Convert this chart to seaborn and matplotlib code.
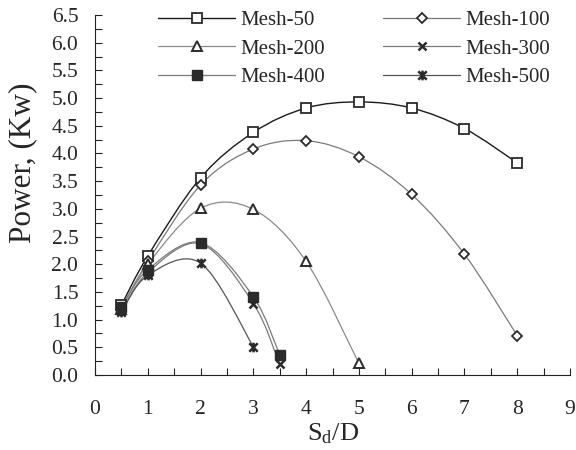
import numpy as np
import pandas as pd
import seaborn as sns
import matplotlib
matplotlib.use("Agg")
import matplotlib.pyplot as plt
from matplotlib.path import Path
from matplotlib.patches import PathPatch
from matplotlib.lines import Line2D
from matplotlib.ticker import MultipleLocator, FormatStrFormatter

# Power output versus spacing ratio for each mesh size
mesh_50_x = [0.5, 1, 2, 3, 4, 5, 6, 7, 8]
mesh_50_y = [1.26, 2.15, 3.56, 4.38, 4.82, 4.93, 4.82, 4.45, 3.83]

mesh_100_x = [0.5, 1, 2, 3, 4, 5, 6, 7, 8]
mesh_100_y = [1.20, 2.05, 3.43, 4.08, 4.23, 3.94, 3.26, 2.18, 0.71]

mesh_200_x = [0.5, 1, 2, 3, 4, 5]
mesh_200_y = [1.20, 2.00, 3.01, 2.99, 2.05, 0.21]

mesh_300_x = [0.5, 1, 2, 3, 3.5]
mesh_300_y = [1.16, 1.85, 2.37, 1.29, 0.19]

mesh_400_x = [0.5, 1, 2, 3, 3.5]
mesh_400_y = [1.22, 1.90, 2.39, 1.41, 0.36]

mesh_500_x = [0.5, 1, 2, 3]
mesh_500_y = [1.13, 1.80, 2.02, 0.51]

labels = ["Mesh-50", "Mesh-100", "Mesh-200", "Mesh-300", "Mesh-400", "Mesh-500"]
xs = [mesh_50_x, mesh_100_x, mesh_200_x, mesh_300_x, mesh_400_x, mesh_500_x]
ys = [mesh_50_y, mesh_100_y, mesh_200_y, mesh_300_y, mesh_400_y, mesh_500_y]

sns.set_theme(style="ticks")
plt.rcParams["font.family"] = ["Liberation Serif", "DejaVu Serif"]
plt.rcParams["mathtext.fontset"] = "custom"
plt.rcParams["mathtext.rm"] = "Liberation Serif"
plt.rcParams["mathtext.it"] = "Liberation Serif"

# asterisk-like marker: an X with a vertical stroke
star_marker = Path(
    [(-1, -1), (1, 1), (-1, 1), (1, -1), (0, -1.15), (0, 1.15)],
    [Path.MOVETO, Path.LINETO, Path.MOVETO, Path.LINETO, Path.MOVETO, Path.LINETO],
)

dark = "#2b2b2b"
styles = [
    dict(marker="s", ms=6.5, mfc="white", mec=dark, mew=1.3, lc="#1a1a1a", lw=1.0),
    dict(marker="D", ms=5.0, mfc="white", mec=dark, mew=1.3, lc="#7a7a7a", lw=0.9),
    dict(marker="^", ms=7.0, mfc="white", mec=dark, mew=1.4, lc="#8a8a8a", lw=0.9),
    dict(marker="x", ms=6.0, mfc=dark, mec=dark, mew=1.8, lc="#7a7a7a", lw=0.9),
    dict(marker="s", ms=7.0, mfc=dark, mec=dark, mew=1.0, lc="#7a7a7a", lw=0.9),
    dict(marker=star_marker, ms=7.0, mfc=dark, mec=dark, mew=1.8, lc="#555555", lw=0.9),
]


def smooth_path(x, y):
    """Cubic Bezier path through the points (Catmull-Rom style smoothing)."""
    p = np.column_stack([x, y]).astype(float)
    n = len(p)
    verts = [p[0]]
    codes = [Path.MOVETO]
    for i in range(n - 1):
        p0 = p[i - 1] if i > 0 else p[i]
        p1 = p[i]
        p2 = p[i + 1]
        p3 = p[i + 2] if i + 2 < n else p[i + 1]
        c1 = p1 + (p2 - p0) / 6.0
        c2 = p2 - (p3 - p1) / 6.0
        verts += [c1, c2, p2]
        codes += [Path.CURVE4] * 3
    return Path(verts, codes)


fig = plt.figure(figsize=(5.76, 4.5), dpi=100)
ax = fig.add_axes([0.165, 0.1667, 0.8246, 0.8])

handles = {}
for lab, x, y, st in zip(labels, xs, ys, styles):
    ax.add_patch(PathPatch(smooth_path(x, y), facecolor="none",
                           edgecolor=st["lc"], lw=st["lw"], zorder=2))
    df = pd.DataFrame({"x": x, "y": y})
    sns.lineplot(data=df, x="x", y="y", ax=ax, sort=False, linestyle="none",
                 marker=st["marker"], markersize=st["ms"],
                 markerfacecolor=st["mfc"], markeredgecolor=st["mec"],
                 markeredgewidth=st["mew"], color=st["lc"], zorder=3)
    handles[lab] = Line2D([], [], color=st["lc"], lw=st["lw"], marker=st["marker"],
                          ms=st["ms"], mfc=st["mfc"], mec=st["mec"], mew=st["mew"])

ax.set_xlim(0, 9)
ax.set_ylim(0, 6.5)
ax.xaxis.set_major_locator(MultipleLocator(1))
ax.xaxis.set_minor_locator(MultipleLocator(0.5))
ax.yaxis.set_major_locator(MultipleLocator(0.5))
ax.yaxis.set_minor_locator(MultipleLocator(0.25))
ax.yaxis.set_major_formatter(FormatStrFormatter("%.1f"))
ax.tick_params(axis="both", which="both", direction="in", length=5, width=0.8,
               color="#222222")
ax.tick_params(axis="x", which="major", pad=18, labelsize=15.5)
ax.tick_params(axis="y", which="major", pad=12, labelsize=15.5)
for side in ["top", "right"]:
    ax.spines[side].set_visible(False)
for side in ["left", "bottom"]:
    ax.spines[side].set_color("#222222")
    ax.spines[side].set_linewidth(0.8)

ax.set_xlabel(r"S$_\mathrm{d}$/D", fontsize=19, labelpad=2)
ax.set_ylabel("Power, (Kw)", fontsize=22.5)
ax.yaxis.set_label_coords(-0.122, 0.59)

# legend filled row by row: 50 | 100, 200 | 300, 400 | 500
order = ["Mesh-50", "Mesh-200", "Mesh-400", "Mesh-100", "Mesh-300", "Mesh-500"]
ax.legend([handles[k] for k in order], order, ncol=2, loc="upper left",
          bbox_to_anchor=(0.1326, 1.012), frameon=False, fontsize=15,
          handlelength=3.7, handletextpad=0.25, columnspacing=2.8,
          labelspacing=0.42, borderaxespad=0, borderpad=0)

fig.savefig("out.png", dpi=100)
